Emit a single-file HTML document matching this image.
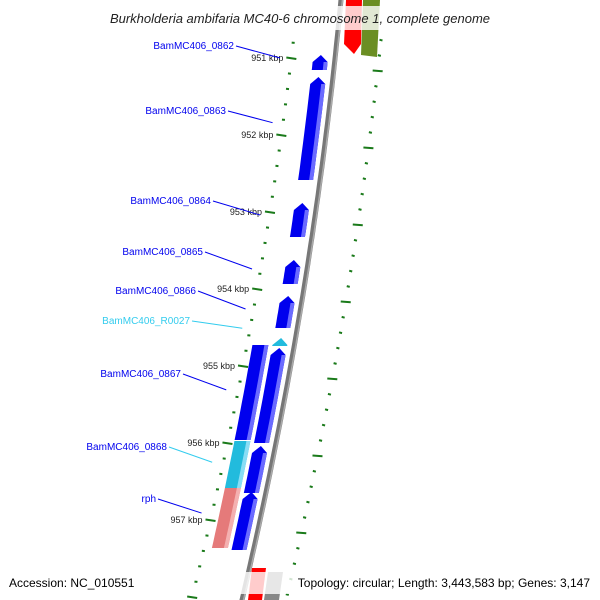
<!DOCTYPE html>
<html><head><meta charset="utf-8"><style>
body{margin:0;background:#fff}
svg{display:block;font-family:"Liberation Sans",sans-serif}
</style></head><body>
<svg id="map" width="600" height="600" viewBox="0 0 600 600">
<g id="gticks"></g>
<g id="ggenes"></g>
<g id="glabels"></g>
<rect x="68" y="6" width="465" height="24" fill="#fff" fill-opacity="0.8"/>
<text x="300" y="23" text-anchor="middle" font-size="13" font-style="italic" fill="#222">Burkholderia ambifaria MC40-6 chromosome 1, complete genome</text>
<rect x="238" y="572" width="356" height="22" fill="#fff" fill-opacity="0.8"/>
<text x="9" y="587" font-size="12" fill="#000">Accession: NC_010551</text>
<text x="590" y="587" font-size="12" fill="#000" text-anchor="end">Topology: circular; Length: 3,443,583 bp; Genes: 3,147</text>
</svg>
<script>
const geneNames=["BamMC406_0862","BamMC406_0863","BamMC406_0864","BamMC406_0865","BamMC406_0866","BamMC406_R0027","r1a","r1b","r1c","BamMC406_0867","BamMC406_0868","rph"];
const geneStart=[950.961,951.247,952.883,953.623,954.091,954.636,954.766,956.039,956.636,954.727,955.974,956.584];
const geneEnd=[951.156,952.584,953.325,953.935,954.506,954.740,956.0,956.649,957.39,955.961,956.584,957.364];
const geneRing=[1,1,1,1,1,1,1,1,1,2,2,2];
const geneArrow=[1,1,1,1,1,1,1,1,1,0,0,0];
const geneType=["b","b","b","b","b","c","b","b","b","b","c","p"];
const labelShown=[1,1,1,1,1,1,0,0,0,1,1,1];
const labelY=[49,114,204,255,294,324,0,0,0,377,450,502];
const labelTx=[234,226,211,203,196,190,0,0,0,181,167,156];
const labelTarget=[957.2/1e3*0+951.0,951.84,953.04,953.74,954.26,954.51,0,0,0,955.31,956.25,956.91];
const majorKbp=[951,952,953,954,955,956,957];

const NS='http://www.w3.org/2000/svg';
function yOf(k){return 58+(k-951)*77;}
function bb(y){return 340.94-0.0945*y-1.1735e-4*y*y;}
function el(t,a,p){const e=document.createElementNS(NS,t);for(const k in a)e.setAttribute(k,a[k]);p.appendChild(e);return e;}
const svg=document.getElementById('map');
const gt=document.getElementById('gticks'),gg=document.getElementById('ggenes'),gl=document.getElementById('glabels');

// backbone
let pts=[];for(let y=-5;y<=605;y+=10)pts.push((bb(y)).toFixed(1)+','+y);
const bl=el('polyline',{points:pts.join(' '),fill:'none',stroke:'#777',"stroke-width":5},gg);


pts=[];for(let y=-5;y<=605;y+=10)pts.push((bb(y)+1.5).toFixed(1)+','+y);
el('polyline',{points:pts.join(' '),fill:'none',stroke:'#aaa',"stroke-width":1.5},gg);

// ticks
for(let i=-5;i<=50;i++){
  const k=951+i*0.2;const y=yOf(k);if(y<35||y>600)continue;
  const major=(i%5===0);
  const xi=bb(y)-43-0.0126*y;
  const t=el('line',{x1:xi-(major?5:1.5),y1:y+(major?-0.5:0),x2:xi+(major?5:1.5),y2:y+(major?1:0.3),stroke:'#1a7a1a',"stroke-width":2},gt);
  
  
}
for(let y=40;y<=600;y+=15.4){
  const major=Math.abs(((y-71)/77)-Math.round((y-71)/77))<0.05;
  const xo=bb(y)+44;
  const t=el('line',{x1:xo-(major?5:1.5),y1:y-0.3,x2:xo+(major?5:1.5),y2:y+0.5,stroke:'#1a7a1a',"stroke-width":2},gt);
  
  
}
majorKbp.forEach(k=>{const y=yOf(k);const x=bb(y)-43-0.0126*y-8;
  const t=el('text',{x:x,y:y+3,"font-size":9,"text-anchor":"end",fill:'#222'},gt);t.textContent=k+' kbp';
  
  });

// genes
const cols={b:['#0000ee','#6b6bff'],c:['#22bbdd','#88ddf5'],p:['#e57a7a','#f4b0b0']};
function edgePts(y1,y2,o,dir){const r=[];const n=8;for(let j=0;j<=n;j++){const y=dir?y1+(y2-y1)*j/n:y2-(y2-y1)*j/n;r.push([bb(y)+o,y]);}return r;}
geneStart.forEach((s,i)=>{
  const y1=yOf(s),y2=yOf(geneEnd[i]);
  const o1=geneRing[i]===1?-22:-42,o2=geneRing[i]===1?-7:-26;
  const head=geneArrow[i]?Math.min(7,(y2-y1)):0;
  const c=cols[geneType[i]];
  let P=[];
  if(geneArrow[i]){P.push([bb(y1)+(o1+o2)/2,y1]);}
  P=P.concat(edgePts(y1+head,y2,o2,true));
  P=P.concat(edgePts(y1+head,y2,o1,false));
  const g=el('polygon',{points:P.map(p=>p[0].toFixed(1)+','+p[1].toFixed(1)).join(' '),fill:c[0]},gg);
  
  
  if(y2-y1>12){
    let Q=edgePts(y1+head,y2,o2,true).concat(edgePts(y1+head,y2,o2-4,false));
    el('polygon',{points:Q.map(p=>p[0].toFixed(1)+','+p[1].toFixed(1)).join(' '),fill:c[1]},gg);
  }
  if(labelShown[i]){
    const ty=yOf(labelTarget[i]);const tx=bb(ty)-(geneRing[i]===1?55:60);
    const ln=el('line',{x1:labelTx[i]+2,y1:labelY[i]-3,x2:tx,y2:ty,stroke:geneType[i]==='c'?'#33ccee':'#0000ee',"stroke-width":1},gl);
    
    
    const t=el('text',{x:labelTx[i],y:labelY[i],"font-size":10,"text-anchor":"end",fill:geneType[i]==='c'&&i===5?'#33ccee':'#0000ee'},gl);
    t.textContent=geneNames[i];
    
    
  }
});
// other-arc genes
function quad(pts,fill,name){const e=el('polygon',{points:pts,fill:fill},gg);}
quad('346,0 362,0 361,44 354,54 344,44','#ff0000','gene-top-red');
quad('363,0 380,0 377,57 361,55','#6b8e23','gene-top-olive');
quad('252,568 266,568 262,600 248,600','#ff0000','gene-bottom-red');
quad('268,572 283,572 279,600 264,600','#888','gene-bottom-gray');
</script>
</body></html>
